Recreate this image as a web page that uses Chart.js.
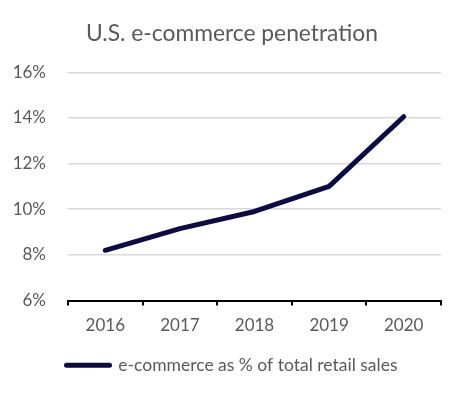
<!DOCTYPE html>
<html><head><meta charset="utf-8">
<script src="https://cdn.jsdelivr.net/npm/chart.js@4/dist/chart.umd.min.js"></script>
<style>html,body{margin:0;padding:0;background:#fff}#wrap{width:464px;height:397px}</style>
</head><body><div id="wrap"><canvas id="c" width="464" height="397"></canvas></div>
<script>
const categories = ['2016','2017','2018','2019','2020'];
const penetration = [8.2, 9.15, 9.9, 11.0, 14.05];
const seriesName = 'e-commerce as % of total retail sales';
const titleText = 'U.S. e-commerce penetration';
const yTicks = [6, 8, 10, 12, 14, 16];

const FONT = 'Lato, "Open Sans", sans-serif';
const GREY = '#595959';
const NAVY = '#0c0b45';

new Chart(document.getElementById('c'), {
  type: 'line',
  data: {
    labels: categories,
    datasets: [{
      label: seriesName,
      data: penetration,
      borderColor: NAVY,
      backgroundColor: NAVY,
      borderWidth: 5,
      pointRadius: 0,
      tension: 0,
      borderCapStyle: 'round',
      borderJoinStyle: 'round'
    }]
  },
  options: {
    responsive: false,
    animation: false,
    layout: { padding: { left: 0, right: 0, top: 0, bottom: 13 } },
    plugins: {
      title: {
        display: true, text: titleText, color: GREY,
        font: { family: FONT, size: 22.8, weight: 'normal' },
        padding: { top: 19.5, bottom: 25.4 }
      },
      legend: {
        position: 'bottom',
        labels: {
          color: GREY,
          font: { family: FONT, size: 17.5 },
          usePointStyle: true,
          pointStyle: 'line',
          pointStyleWidth: 43,
          padding: 10,
          generateLabels: (chart) => [{
            text: seriesName,
            fillStyle: NAVY, strokeStyle: NAVY, lineWidth: 5, lineCap: 'round',
            pointStyle: 'line', fontColor: GREY, datasetIndex: 0, hidden: false
          }]
        }
      },
      tooltip: { enabled: false }
    },
    scales: {
      x: {
        offset: true,
        grid: { display: true, offset: true, drawOnChartArea: false, drawTicks: true, tickLength: 5, color: '#000', lineWidth: 2 },
        border: { display: true, color: '#000', width: 2 },
        ticks: { color: GREY, font: { family: FONT, size: 17 }, padding: 10 },
        afterFit: (s) => { s.height = 46; }
      },
      y: {
        min: 6, max: 16,
        afterBuildTicks: (s) => { s.ticks = yTicks.map(v => ({ value: v })); },
        grid: { color: '#d9d9d9', lineWidth: 1.5, drawTicks: false },
        border: { display: false },
        ticks: { color: GREY, font: { family: FONT, size: 17 }, padding: 22, callback: (v) => v + '%' },
        afterFit: (s) => { s.width = 68; }
      },
      spacer: {
        type: 'linear', position: 'right', min: 0, max: 1,
        grid: { display: false, drawTicks: false },
        border: { display: false },
        ticks: { display: false },
        afterFit: (s) => { s.width = 23; }
      }
    }
  }
});
</script>
</body></html>
